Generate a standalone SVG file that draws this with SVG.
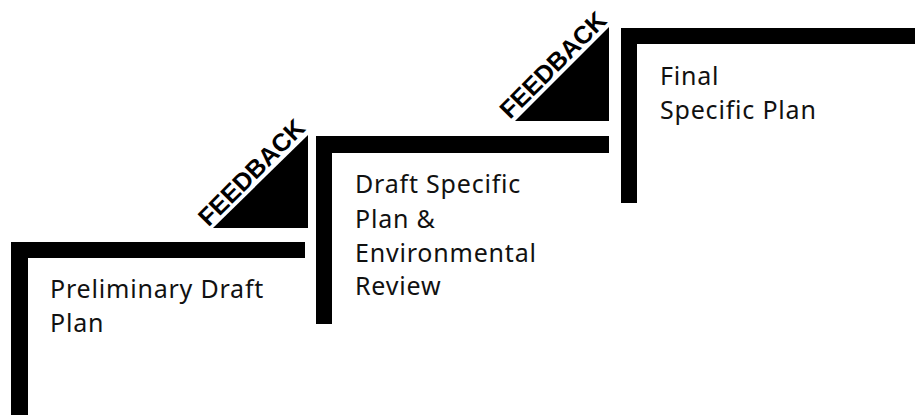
<svg xmlns="http://www.w3.org/2000/svg" width="915" height="415" viewBox="0 0 915 415">
<style>
.bar{fill:#000}
.lbl{font-family:"Noto Sans","Open Sans",sans-serif;font-size:25px;letter-spacing:0.8px;fill:#111}
.fb{font-family:"Liberation Sans",Arial,sans-serif;font-weight:bold;font-size:25px;fill:#000;text-anchor:middle}
</style>
<rect width="915" height="415" fill="#fff"/>
<g id="step1">
<path class="bar" d="M11 242 H305 V258 H28 V415 H11 Z"/>
<text class="lbl" x="50" y="298">Preliminary Draft</text>
<text class="lbl" x="50" y="332">Plan</text>
</g>
<g id="step2">
<path class="bar" d="M316 136 H609 V153 H332 V324 H316 Z"/>
<text class="lbl" x="355" y="193">Draft Specific</text>
<text class="lbl" x="355" y="228">Plan &amp;</text>
<text class="lbl" x="355" y="262">Environmental</text>
<text class="lbl" x="355" y="295">Review</text>
</g>
<g id="step3">
<path class="bar" d="M621 28 H915 V44 H637 V203 H621 Z"/>
<text class="lbl" x="660" y="85">Final</text>
<text class="lbl" x="660" y="119">Specific Plan</text>
</g>
<g id="connectors">
<g id="feedback1">
<polygon class="bar" points="308,135 308,228 213,228"/>
<text class="fb" x="257.5" y="178.5" transform="rotate(-45 257.5 178.5)">FEEDBACK</text>
</g>
<g id="feedback2">
<polygon class="bar" points="609,27 609,121 515,121"/>
<text class="fb" x="559" y="71" transform="rotate(-45 559 71)">FEEDBACK</text>
</g>
</g>
</svg>
